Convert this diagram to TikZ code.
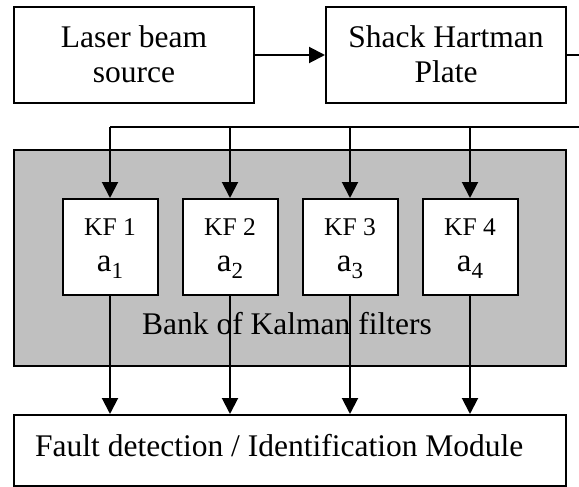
\documentclass[tikz,border=0pt]{standalone}
\usepackage{fontspec}
\setmainfont{Liberation Serif}
\usetikzlibrary{arrows.meta}
\definecolor{bankgray}{HTML}{C0C0C0}
\begin{document}
\begin{tikzpicture}[x=1pt,y=-1pt,
  box/.style={draw,line width=2pt,fill=white,inner sep=0pt},
  conn/.style={line width=2pt},
  arr/.style={conn,-{Triangle[length=16pt,width=16pt]}},
  big/.style={font=\fontsize{31.5}{35}\selectfont,inner sep=0pt},
  kft/.style={font=\fontsize{25.5}{30}\selectfont,inner sep=0pt},
  kfa/.style={font=\fontsize{33}{36}\selectfont,inner sep=0pt},
]
\useasboundingbox (0,0) rectangle (579,487);

% top boxes
\node[box,minimum width=240pt,minimum height=96pt] (laser) at (134,55) {};
\node[box,minimum width=240pt,minimum height=96pt] (shack) at (446,55) {};
\node[big,anchor=base] (laserA) at (134,48) {Laser beam};
\node[big,anchor=base] (laserB) at (134,83) {source};
\node[big,anchor=base] (shackA) at (446,48) {Shack Hartman};
\node[big,anchor=base] (shackB) at (446,83) {Plate};

% bank
\node[draw,line width=2pt,fill=bankgray,inner sep=0pt,minimum width=552pt,minimum height=216pt] (bank) at (290,258) {};
\node[big,anchor=base] (banktext) at (287,334) {Bank of Kalman filters};

% fault box
\node[box,minimum width=552pt,minimum height=71pt] (fault) at (290,450.5) {};
\node[big,anchor=base west] (faulttext) at (35,456) {Fault detection / Identification Module};

% connectors top
\draw[arr] (laser.east) -- (shack.west);
\coordinate (rt) at (579,55);
\coordinate (rb) at (579,127);
\coordinate (j1) at (110,127);
\coordinate (j2) at (230,127);
\coordinate (j3) at (350,127);
\coordinate (j4) at (470,127);
\draw[conn] (shack.east) -- (rt);
\draw[conn] (rb) -- (j1);

% KF boxes
\foreach \i/\x in {1/110,2/230,3/350,4/470}{
  \node[box,minimum width=95pt,minimum height=96pt] (kf\i) at (\x,247) {};
  \node[kft,anchor=base] (kft\i) at (\x,235) {KF \i};
  \node[kfa,anchor=base] (kfa\i) at (\x,271) {a\raisebox{-7pt}{\fontsize{23}{24}\selectfont\i}};
  \draw[arr] (j\i) -- (kf\i.north);
  \draw[arr] (kf\i.south) -- (kf\i.south |- fault.north);
}
\end{tikzpicture}
\end{document}
